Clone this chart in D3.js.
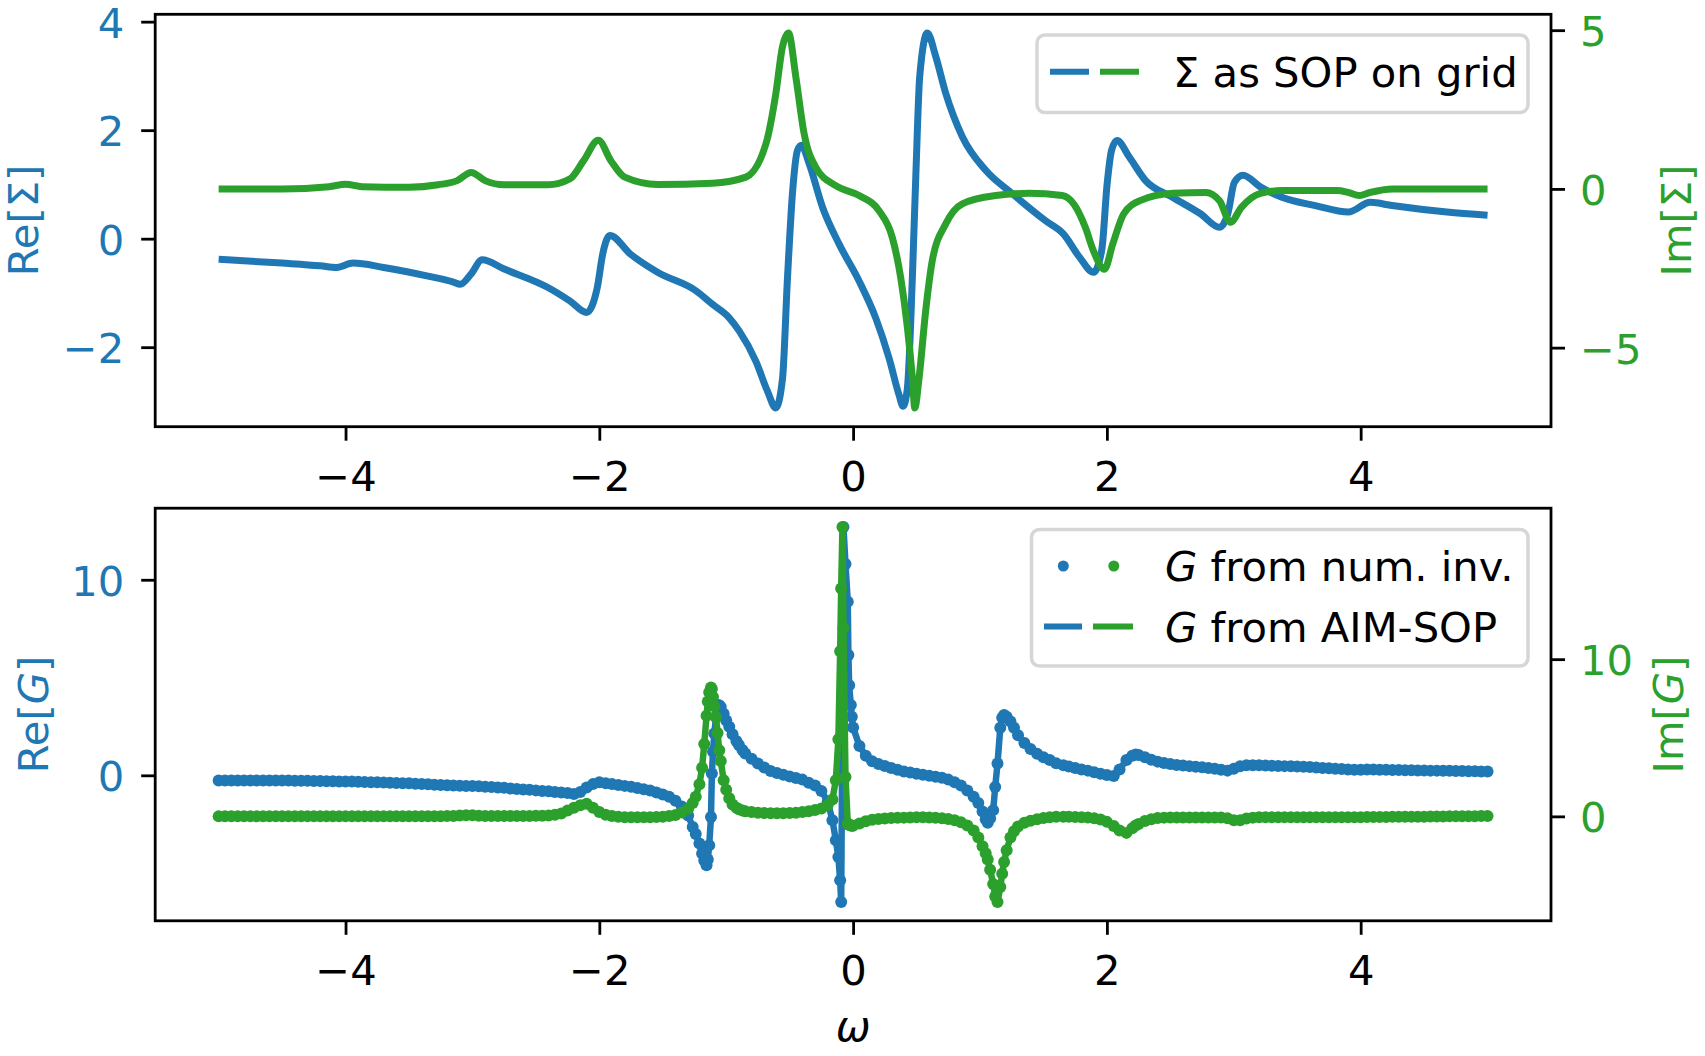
<!DOCTYPE html>
<html><head><meta charset="utf-8">
<script src="https://cdn.jsdelivr.net/npm/d3@7"></script>
<style>body{margin:0;background:#fff} svg{display:block}</style>
</head><body><svg id="c" width="1705" height="1056"></svg>
<script>
// ---------- top panel: self-energy on the real axis ----------
const omegaReS = [-5.0,-4.5,-4.2,-4.07,-3.94,-3.7,-3.35,-3.15,-3.096,-3.01,-2.924,-2.75,-2.405,-2.23,-2.10,-2.016,-1.973,-1.917,-1.757,-1.541,-1.239,-1.108,-0.98,-0.898,-0.766,-0.675,-0.609,-0.556,-0.517,-0.478,-0.438,-0.407,-0.346,-0.241,-0.11,0.047,0.178,0.283,0.362,0.394,0.428,0.467,0.494,0.525,0.585,0.651,0.73,0.861,1.045,1.254,1.517,1.657,1.787,1.894,1.959,2.002,2.037,2.08,2.175,2.305,2.52,2.737,2.888,2.953,3.005,3.073,3.212,3.384,3.643,3.903,4.076,4.248,4.68,5.0];
const reSigma = [-0.38,-0.45,-0.50,-0.53,-0.45,-0.53,-0.69,-0.80,-0.84,-0.65,-0.39,-0.56,-0.90,-1.15,-1.36,-0.90,-0.28,0.06,-0.28,-0.62,-0.96,-1.21,-1.45,-1.70,-2.26,-2.81,-3.12,-2.57,-0.72,0.83,1.63,1.72,1.38,0.58,-0.10,-0.78,-1.46,-2.20,-2.88,-3.09,-2.75,-0.72,1.14,2.99,3.79,3.36,2.68,1.88,1.26,0.83,0.33,0.09,-0.35,-0.62,-0.22,1.01,1.63,1.81,1.51,1.07,0.76,0.46,0.21,0.46,1.04,1.17,0.95,0.76,0.61,0.49,0.67,0.61,0.49,0.43];
const omegaImS = [-5.0,-4.5,-4.13,-4.0,-3.87,-3.5,-3.27,-3.12,-3.01,-2.9,-2.75,-2.405,-2.23,-2.124,-2.008,-1.909,-1.8,-1.54,-1.11,-0.845,-0.687,-0.609,-0.557,-0.509,-0.451,-0.386,-0.294,-0.136,0.047,0.205,0.309,0.375,0.428,0.467,0.486,0.520,0.572,0.624,0.729,0.861,1.124,1.386,1.648,1.743,1.83,1.894,1.981,2.046,2.132,2.261,2.52,2.78,2.888,2.974,3.06,3.21,3.384,3.817,3.9,3.99,4.076,4.25,5.0];
const imSigma = [0.0,0.0,0.07,0.15,0.07,0.05,0.13,0.26,0.52,0.26,0.13,0.13,0.32,0.89,1.53,0.89,0.37,0.14,0.18,0.37,1.42,3.0,4.47,4.91,3.52,1.74,0.68,0.10,-0.21,-0.69,-1.53,-2.79,-4.37,-5.95,-6.90,-5.95,-3.84,-2.26,-1.11,-0.47,-0.21,-0.14,-0.21,-0.50,-1.21,-1.95,-2.53,-1.74,-0.79,-0.37,-0.14,-0.11,-0.37,-1.05,-0.58,-0.14,-0.05,-0.05,-0.11,-0.21,-0.11,0.0,0.0];

// ---------- bottom panel: Green's function ----------
const omegaG = [
-5.00,-4.95,-4.90,-4.85,-4.80,-4.75,-4.70,-4.65,-4.60,-4.55,
-4.50,-4.45,-4.40,-4.35,-4.30,-4.25,-4.20,-4.15,-4.10,-4.05,
-4.00,-3.95,-3.90,-3.85,-3.80,-3.75,-3.70,-3.65,-3.60,-3.55,
-3.50,-3.45,-3.40,-3.35,-3.30,-3.25,-3.20,-3.15,-3.10,-3.05,
-3.00,-2.95,-2.90,-2.85,-2.80,-2.75,-2.70,-2.65,-2.60,-2.55,
-2.50,-2.45,-2.40,-2.35,-2.30,-2.25,-2.20,-2.15,-2.10,-2.05,
-2.00,-1.95,-1.90,-1.85,-1.80,-1.75,-1.70,-1.65,-1.60,-1.55,
-1.50,-1.45,-1.40,-1.35,-1.30,-1.264,-1.24,-1.211,-1.19,-1.173,
-1.155,-1.145,-1.134,-1.12,-1.113,-1.104,-1.094,-1.08,-1.068,-1.055,
-1.043,-1.02,-1.00,-0.976,-0.95,-0.92,-0.90,-0.872,-0.85,-0.80,
-0.75,-0.70,-0.65,-0.60,-0.55,-0.50,-0.45,-0.40,-0.35,-0.30,
-0.25,-0.20,-0.163,-0.136,-0.116,-0.102,-0.094,-0.084,-0.076,-0.06,
-0.042,-0.037,-0.031,-0.018,-0.010,0.00,0.05,0.10,0.15,0.20,
0.25,0.30,0.35,0.40,0.45,0.50,0.55,0.60,0.65,0.70,
0.75,0.80,0.85,0.90,0.95,0.987,1.02,1.045,1.061,1.08,
1.104,1.12,1.138,1.16,1.175,1.19,1.21,1.24,1.268,1.30,
1.35,1.398,1.45,1.50,1.55,1.60,1.657,1.70,1.75,1.80,
1.85,1.90,1.95,2.00,2.054,2.10,2.154,2.20,2.227,2.25,
2.30,2.35,2.40,2.45,2.50,2.55,2.60,2.65,2.70,2.75,
2.80,2.85,2.90,2.95,3.00,3.05,3.10,3.15,3.20,3.25,
3.30,3.35,3.40,3.45,3.50,3.55,3.60,3.65,3.70,3.75,
3.80,3.85,3.90,3.95,4.00,4.05,4.10,4.15,4.20,4.25,
4.30,4.35,4.40,4.45,4.50,4.55,4.60,4.65,4.70,4.75,
4.80,4.85,4.90,4.95,5.00];
const reG = [
-0.26,-0.26,-0.26,-0.26,-0.26,-0.26,-0.26,-0.26,-0.27,-0.27,
-0.27,-0.27,-0.28,-0.28,-0.28,-0.29,-0.29,-0.30,-0.30,-0.31,
-0.32,-0.32,-0.33,-0.34,-0.35,-0.36,-0.37,-0.38,-0.39,-0.40,
-0.41,-0.43,-0.44,-0.46,-0.48,-0.50,-0.51,-0.52,-0.53,-0.55,
-0.55,-0.56,-0.58,-0.60,-0.62,-0.64,-0.67,-0.70,-0.72,-0.74,
-0.77,-0.80,-0.82,-0.85,-0.88,-0.91,-0.95,-0.85,-0.62,-0.45,
-0.36,-0.40,-0.45,-0.49,-0.54,-0.59,-0.65,-0.71,-0.78,-0.88,
-0.98,-1.10,-1.30,-1.60,-2.05,-2.64,-3.00,-3.49,-4.00,-4.35,
-4.60,-4.30,-3.58,-2.13,0.09,1.20,2.14,3.00,3.59,3.58,
3.50,3.15,2.80,2.48,2.10,1.75,1.55,1.29,1.12,0.85,
0.60,0.40,0.22,0.12,0.03,-0.06,-0.14,-0.22,-0.38,-0.52,
-0.80,-1.35,-2.30,-3.32,-4.18,-5.37,-6.48,3.00,12.70,10.80,
8.88,6.15,4.61,3.59,2.99,2.45,1.50,1.00,0.72,0.58,
0.48,0.38,0.28,0.20,0.14,0.08,0.03,-0.02,-0.07,-0.13,
-0.22,-0.35,-0.52,-0.78,-1.10,-1.41,-1.85,-2.25,-2.42,-2.20,
-1.78,-0.60,0.60,2.43,2.95,3.08,3.00,2.75,2.43,2.05,
1.65,1.34,1.10,0.92,0.78,0.62,0.51,0.45,0.37,0.30,
0.24,0.16,0.08,0.02,-0.04,0.30,0.78,1.00,1.06,1.04,
0.93,0.80,0.70,0.63,0.58,0.53,0.50,0.47,0.44,0.41,
0.37,0.33,0.29,0.24,0.34,0.46,0.52,0.52,0.51,0.50,
0.49,0.48,0.47,0.46,0.45,0.44,0.42,0.40,0.38,0.36,
0.34,0.32,0.30,0.28,0.29,0.30,0.30,0.29,0.28,0.27,
0.27,0.26,0.26,0.25,0.25,0.24,0.24,0.23,0.23,0.22,
0.22,0.21,0.21,0.20,0.20];
const imG = [
0.00,0.00,0.00,0.00,0.00,0.00,0.00,0.00,0.00,0.00,
0.00,0.00,0.00,0.00,0.00,0.00,0.00,0.00,0.00,0.00,
0.00,0.00,0.00,0.00,0.00,0.00,0.00,0.00,0.00,0.00,
0.00,0.00,0.00,0.00,0.00,0.01,0.02,0.03,0.05,0.07,
0.07,0.04,0.02,0.02,0.02,0.02,0.03,0.03,0.03,0.03,
0.04,0.04,0.05,0.10,0.18,0.38,0.55,0.70,0.80,0.55,
0.28,0.10,0.02,-0.03,-0.05,-0.05,-0.05,-0.05,-0.05,-0.04,
-0.02,0.02,0.08,0.25,0.48,0.85,1.25,2.05,3.10,4.60,
6.40,7.30,7.90,8.20,8.10,7.60,7.00,6.30,5.30,4.20,
3.52,2.30,1.70,1.15,0.76,0.55,0.45,0.38,0.33,0.27,
0.23,0.21,0.20,0.20,0.20,0.21,0.23,0.27,0.33,0.40,
0.50,0.72,1.08,2.30,4.91,10.50,14.50,18.41,12.00,2.50,
-0.45,-0.50,-0.55,-0.58,-0.60,-0.60,-0.45,-0.31,-0.22,-0.17,
-0.13,-0.11,-0.09,-0.08,-0.07,-0.06,-0.06,-0.07,-0.09,-0.12,
-0.17,-0.25,-0.38,-0.58,-0.90,-1.35,-1.90,-2.35,-2.75,-3.40,
-4.30,-5.10,-5.45,-4.50,-3.65,-2.90,-2.15,-1.35,-0.95,-0.65,
-0.40,-0.28,-0.18,-0.10,-0.05,-0.03,-0.03,-0.03,-0.04,-0.05,
-0.07,-0.12,-0.20,-0.35,-0.62,-0.90,-1.05,-0.75,-0.58,-0.48,
-0.30,-0.18,-0.11,-0.08,-0.07,-0.07,-0.07,-0.07,-0.07,-0.07,
-0.07,-0.07,-0.07,-0.12,-0.25,-0.25,-0.13,-0.08,-0.06,-0.05,
-0.05,-0.05,-0.05,-0.05,-0.05,-0.05,-0.05,-0.05,-0.05,-0.05,
-0.05,-0.05,-0.05,-0.05,-0.05,-0.04,-0.04,-0.04,-0.04,-0.03,
-0.03,-0.03,-0.02,-0.02,-0.02,-0.01,-0.01,-0.01,0.00,0.00,
0.00,0.01,0.01,0.02,0.02];

// ---------- ticks and labels ----------
const xTicks = [-4,-2,0,2,4];
const reSigmaTicks = [-2,0,2,4];
const imSigmaTicks = [-5,0,5];
const reGTicks = [0,10];
const imGTicks = [0,10];
const legendTop = ["Σ as SOP on grid"];
const legendBottom = ["from num. inv.","from AIM-SOP"];

// ---------- drawing ----------
const BLUE = "#1f77b4", GREEN = "#2ca02c";
const FONT = 41.7, FF = "DejaVu Sans, sans-serif";
const LW_TOP = 7, LW_BOT = 6.5, DOT_R = 6;
const svg = d3.select("#c");
const L = 155.2, R = 1551;
const P1 = {top:14.3, bottom:426.7}, P2 = {top:508.2, bottom:920.8};
const pad = e => { const r = e[1]-e[0]; return [e[0]-0.05*r, e[1]+0.05*r]; };

const x = d3.scaleLinear().domain(pad(d3.extent(omegaG))).range([L, R]);

function axes(P, yL, yR, tL, tR) {
  const fmt = d3.format("d");
  const gx = svg.append("g").attr("transform", `translate(0,${P.bottom})`)
    .call(d3.axisBottom(x).tickValues(xTicks).tickFormat(fmt).tickSize(14).tickPadding(21));
  const gl = svg.append("g").attr("transform", `translate(${L},0)`)
    .call(d3.axisLeft(yL).tickValues(tL).tickFormat(fmt).tickSize(14).tickPadding(17));
  const gr = svg.append("g").attr("transform", `translate(${R},0)`)
    .call(d3.axisRight(yR).tickValues(tR).tickFormat(fmt).tickSize(14).tickPadding(15));
  [gx, gl, gr].forEach(g => {
    g.attr("font-size", FONT).attr("font-family", FF);
    g.select(".domain").remove();
    g.selectAll(".tick line").attr("stroke", "#000").attr("stroke-width", 2.8);
  });
  gx.selectAll(".tick text").attr("fill", "#000");
  gl.selectAll(".tick text").attr("fill", BLUE).attr("dy", "0.37em");
  gr.selectAll(".tick text").attr("fill", GREEN).attr("dy", "0.37em");
  svg.append("rect").attr("x", L).attr("y", P.top).attr("width", R-L).attr("height", P.bottom-P.top)
    .attr("fill", "none").attr("stroke", "#000").attr("stroke-width", 2.8);
}

function ylabel(cx, cy, color, parts) {
  const t = svg.append("text").attr("transform", `translate(${cx},${cy}) rotate(-90)`)
    .attr("text-anchor", "middle").attr("dominant-baseline", "central")
    .attr("font-size", FONT).attr("font-family", FF).attr("fill", color);
  parts.forEach(p => t.append("tspan").attr("font-style", p[1] ? "italic" : "normal").text(p[0]));
}

// ---- top panel ----
const yReS = d3.scaleLinear().domain(pad(d3.extent(reSigma))).range([P1.bottom, P1.top]);
const yImS = d3.scaleLinear().domain(pad(d3.extent(imSigma))).range([P1.bottom, P1.top]);
const lineReS = d3.line().x((d,i) => x(omegaReS[i])).y(d => yReS(d)).curve(d3.curveMonotoneX);
const lineImS = d3.line().x((d,i) => x(omegaImS[i])).y(d => yImS(d)).curve(d3.curveMonotoneX);
svg.append("path").attr("d", lineReS(reSigma)).style("fill","none").style("stroke",BLUE).style("stroke-width",LW_TOP+"px").style("stroke-linejoin","round");
svg.append("path").attr("d", lineImS(imSigma)).style("fill","none").style("stroke",GREEN).style("stroke-width",LW_TOP+"px").style("stroke-linejoin","round");
axes(P1, yReS, yImS, reSigmaTicks, imSigmaTicks);
ylabel(23, (P1.top+P1.bottom)/2, BLUE, [["Re[Σ]",false]]);
ylabel(1676, (P1.top+P1.bottom)/2, GREEN, [["Im[Σ]",false]]);

// top legend
svg.append("rect").attr("x",1037).attr("y",35).attr("width",491).attr("height",77.5).attr("rx",8)
  .attr("fill","#fff").attr("fill-opacity",0.8).attr("stroke","#d6d6d6").attr("stroke-width",3.5);
svg.append("line").attr("x1",1050).attr("x2",1089).attr("y1",71.7).attr("y2",71.7).style("stroke",BLUE).style("stroke-width","6px");
svg.append("line").attr("x1",1100).attr("x2",1139).attr("y1",71.7).attr("y2",71.7).style("stroke",GREEN).style("stroke-width","6px");
svg.append("text").attr("x",1173).attr("y",87.3).attr("font-size",FONT).attr("font-family",FF).attr("fill","#000").text(legendTop[0]);

// ---- bottom panel ----
const yReG = d3.scaleLinear().domain(pad(d3.extent(reG))).range([P2.bottom, P2.top]);
const yImG = d3.scaleLinear().domain(pad(d3.extent(imG))).range([P2.bottom, P2.top]);
const lineReG = d3.line().x((d,i) => x(omegaG[i])).y(d => yReG(d));
const lineImG = d3.line().x((d,i) => x(omegaG[i])).y(d => yImG(d));
// Re[G]: dots (num. inv.) then line (AIM-SOP)
svg.append("g").selectAll("circle").data(reG).join("circle")
  .attr("cx",(d,i)=>x(omegaG[i])).attr("cy",d=>yReG(d)).attr("r",DOT_R).style("fill",BLUE);
svg.append("path").attr("d", lineReG(reG)).style("fill","none").style("stroke",BLUE).style("stroke-width",LW_BOT+"px").style("stroke-linejoin","round");
// Im[G]
svg.append("g").selectAll("circle").data(imG).join("circle")
  .attr("cx",(d,i)=>x(omegaG[i])).attr("cy",d=>yImG(d)).attr("r",DOT_R).style("fill",GREEN);
svg.append("path").attr("d", lineImG(imG)).style("fill","none").style("stroke",GREEN).style("stroke-width",LW_BOT+"px").style("stroke-linejoin","round");
axes(P2, yReG, yImG, reGTicks, imGTicks);
ylabel(33, (P2.top+P2.bottom)/2, BLUE, [["Re[",false],["G",true],["]",false]]);
ylabel(1668, (P2.top+P2.bottom)/2, GREEN, [["Im[",false],["G",true],["]",false]]);

// bottom legend
svg.append("rect").attr("x",1031.5).attr("y",529.5).attr("width",496.5).attr("height",136.5).attr("rx",8)
  .attr("fill","#fff").attr("fill-opacity",0.8).attr("stroke","#d6d6d6").attr("stroke-width",3.5);
svg.append("circle").attr("cx",1063.3).attr("cy",566).attr("r",5.5).style("fill",BLUE);
svg.append("circle").attr("cx",1113.8).attr("cy",566).attr("r",5.5).style("fill",GREEN);
svg.append("line").attr("x1",1044).attr("x2",1082).attr("y1",626.5).attr("y2",626.5).style("stroke",BLUE).style("stroke-width","6px");
svg.append("line").attr("x1",1093).attr("x2",1133).attr("y1",626.5).attr("y2",626.5).style("stroke",GREEN).style("stroke-width","6px");
[[580.5, legendBottom[0]],[641.5, legendBottom[1]]].forEach(r => {
  const t = svg.append("text").attr("x",1165).attr("y",r[0]).attr("font-size",FONT).attr("font-family",FF).attr("fill","#000");
  t.append("tspan").attr("font-style","italic").text("G");
  t.append("tspan").text(" " + r[1]);
});

// x label
svg.append("text").attr("x", x(0)).attr("y", 1026).attr("text-anchor","middle").attr("dominant-baseline","central")
  .attr("font-size",FONT).attr("font-family",FF).attr("font-style","italic").attr("fill","#000").text("ω");
</script></body></html>
